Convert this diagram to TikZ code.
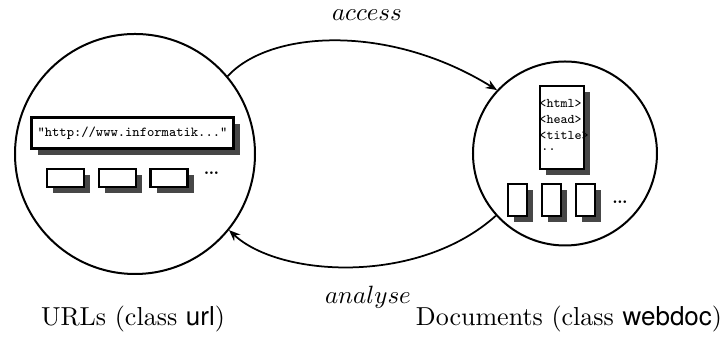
\documentclass[tikz,border=0pt]{standalone}
\usepackage{fontspec}
\setsansfont{TeX Gyre Heros}
\usetikzlibrary{shadows,arrows.meta}
\begin{document}
\begin{tikzpicture}[x=0.4pt,y=-0.4pt,
  set/.style={draw, circle, line width=0.8pt, inner sep=0pt},
  obj/.style={draw, fill=white, line width=1pt, inner sep=0pt,
    general shadow={fill=black!72, shadow xshift=2.6pt, shadow yshift=-2.6pt}},
  flow/.style={line width=0.7pt, -{Stealth[length=4.5pt,width=3.6pt,inset=1.5pt]}},
  tiny/.style={inner sep=0pt, font=\fontsize{5.3}{6}\selectfont\ttfamily},
  more/.style={inner sep=0pt, font=\fontsize{10}{12}\selectfont},
  caption/.style={inner sep=0pt, font=\fontsize{10.4}{12}\selectfont}]
\useasboundingbox (0,0) rectangle (723,337);

% the two sets
\node[set, minimum size=96pt] (L) at (135,154) {};
\node[set, minimum size=73.6pt] (R) at (565,153.5) {};

% URL objects
\node[obj, line width=1.2pt, minimum width=80.4pt, minimum height=12.4pt,
  font=\fontsize{5.5}{6}\selectfont\ttfamily] (u0) at (132.5,133.5)
  {"http://www.informatik..."};
\node[obj, minimum width=14.8pt, minimum height=7.2pt] (u1) at (65.5,178) {};
\node[obj, minimum width=14.8pt, minimum height=7.2pt] (u2) at (117.5,178) {};
\node[obj, minimum width=14.8pt, minimum height=7.2pt] (u3) at (169,178) {};
\node[more] (ud) at (211.5,173) {\ldots};

% document objects
\node[obj, minimum width=17.6pt, minimum height=33.2pt] (d0) at (562,127.5) {};
\node[tiny, anchor=west] (t1) at (539,103) {<html>};
\node[tiny, anchor=west] (t2) at (539,119) {<head>};
\node[tiny, anchor=west] (t3) at (539,135) {<title>};
\node[tiny, anchor=west] (t4) at (541,150) {..};
\node[obj, minimum width=7.6pt, minimum height=12.8pt] (d1) at (517.5,200) {};
\node[obj, minimum width=7.6pt, minimum height=12.8pt] (d2) at (551.5,200) {};
\node[obj, minimum width=7.6pt, minimum height=12.8pt] (d3) at (585.5,200) {};
\node[more] (dd) at (620,202) {\ldots};

% relations between the sets
\draw[flow] (L.40) .. controls +(42,-46) and +(-108,-67) .. (R.137.5);
\draw[flow] (R.222.5) .. controls +(-78,70) and +(50,47) .. (L.-39.7);
\node[caption] (acc) at (367,15) {$access$};
\node[caption] (ana) at (368,297) {$analyse$};

% captions
\node[caption] (cl) at (133,319) {URLs (class \textsf{url})};
\node[caption] (cr) at (569,319) {Documents (class \textsf{webdoc})};
\end{tikzpicture}
\end{document}
